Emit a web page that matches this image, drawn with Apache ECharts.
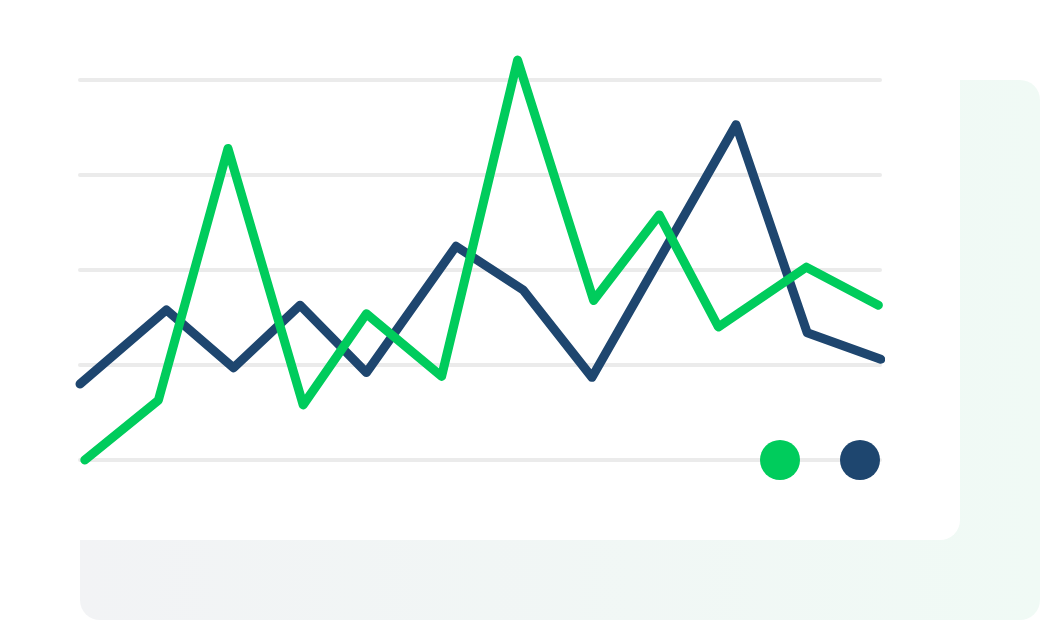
<!DOCTYPE html>
<html>
<head>
<meta charset="utf-8">
<script src="https://cdn.jsdelivr.net/npm/echarts@6/dist/echarts.min.js"></script>
<style>
html,body{margin:0;padding:0;background:#ffffff;}
#chart{width:1040px;height:620px;}
</style>
</head>
<body>
<div id="chart"></div>
<script>
// Data (x on a 0–100 position scale, y on a 0–4 scale)
var seriesNames = ['Green', 'Navy'];
var greenX = [0.6, 9.8, 18.5, 27.9, 35.8, 45.2, 54.7, 64.2, 72.4, 79.8, 90.8, 99.8];
var greenY = [0.0, 0.63, 3.28, 0.58, 1.54, 0.88, 4.21, 1.68, 2.58, 1.40, 2.03, 1.63];
var navyX = [0.0, 10.8, 19.2, 27.5, 35.8, 47.0, 55.4, 64.0, 82.0, 90.9, 100.1];
var navyY = [0.80, 1.58, 0.97, 1.63, 0.92, 2.25, 1.79, 0.87, 3.53, 1.34, 1.06];

function pairs(xs, ys) {
  return xs.map(function (x, i) { return [x, ys[i]]; });
}

var chart = echarts.init(document.getElementById('chart'), null, {renderer: 'canvas'});
var option = {
  backgroundColor: '#ffffff',
  animation: false,
  graphic: [
    {
      type: 'rect', z: -20, silent: true,
      shape: {x: 80, y: 80, width: 960, height: 540, r: 20},
      style: {
        fill: new echarts.graphic.LinearGradient(0, 0, 1, 0, [
          {offset: 0, color: '#f2f3f5'},
          {offset: 1, color: '#f0faf5'}
        ])
      }
    },
    {
      type: 'rect', z: -10, silent: true,
      shape: {x: -20, y: -20, width: 980, height: 560, r: 20},
      style: {fill: '#ffffff'}
    }
  ],
  grid: {left: 80, right: 160, top: 80, bottom: 160, containLabel: false},
  xAxis: {
    type: 'value', min: 0, max: 100,
    axisLine: {show: false}, axisTick: {show: false}, axisLabel: {show: false},
    splitLine: {show: false}
  },
  yAxis: {
    type: 'value', min: 0, max: 4, interval: 1,
    axisLine: {show: false}, axisTick: {show: false}, axisLabel: {show: false},
    splitLine: {show: true, lineStyle: {color: '#ebebeb', width: 4, cap: 'round'}}
  },
  legend: {
    data: seriesNames,
    left: 760, top: 440, padding: 0,
    icon: 'circle', itemWidth: 40, itemHeight: 40, itemGap: 40,
    formatter: function () { return ''; },
    textStyle: {fontSize: 1},
    selectedMode: false
  },
  series: [
    {
      name: 'Green', type: 'line', data: pairs(greenX, greenY),
      clip: false, symbol: 'none', smooth: false,
      color: '#00cc5c',
      lineStyle: {width: 9, color: '#00cc5c', cap: 'round', join: 'round'},
      z: 3
    },
    {
      name: 'Navy', type: 'line', data: pairs(navyX, navyY),
      clip: false, symbol: 'none', smooth: false,
      color: '#1e466f',
      lineStyle: {width: 9, color: '#1e466f', cap: 'round', join: 'round'},
      z: 2
    }
  ]
};
chart.setOption(option);
</script>
</body>
</html>
